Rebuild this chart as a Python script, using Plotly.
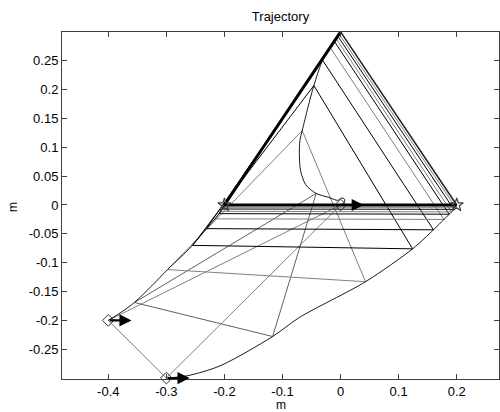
import plotly.graph_objects as go

# Snapshot positions of the three bodies (same time instants)
p1x = [-0.400, -0.355, -0.298, -0.255, -0.231, -0.216, -0.209, -0.206, -0.204, -0.202, -0.200]
p1y = [-0.200, -0.169, -0.112, -0.070, -0.041, -0.024, -0.015, -0.011, -0.007, -0.004, 0.000]
p2x = [-0.300, -0.117, 0.043, 0.124, 0.160, 0.178, 0.187, 0.191, 0.195, 0.198, 0.200]
p2y = [-0.300, -0.228, -0.133, -0.076, -0.043, -0.025, -0.016, -0.012, -0.0075, -0.004, 0.000]
p3x = [0.000, -0.042, -0.066, -0.046, -0.031, -0.018, -0.011, -0.008, -0.005, -0.003, 0.000]
p3y = [0.000, 0.020, 0.129, 0.207, 0.251, 0.273, 0.284, 0.289, 0.293, 0.297, 0.300]
snap_colors = ["#808080", "#606060", "#808080", "#000000", "#000000", "#808080",
               "#000000", "#808080", "#000000", "#808080", "#000000"]

# Trajectories
path1x = [-0.400, -0.378, -0.355, -0.325, -0.298, -0.275, -0.255, -0.231, -0.216, -0.206, -0.200]
path1y = [-0.200, -0.186, -0.169, -0.140, -0.112, -0.090, -0.070, -0.041, -0.024, -0.011, 0.000]
path2x = [-0.300, -0.264, -0.208, -0.117, -0.071, 0.043, 0.124, 0.160, 0.178, 0.191, 0.200]
path2y = [-0.300, -0.296, -0.279, -0.228, -0.195, -0.133, -0.076, -0.043, -0.025, -0.012, 0.000]
path3x = [0.000, 0.006, 0.007, 0.001, -0.005, -0.020, -0.042, -0.060, -0.069, -0.071, -0.070,
          -0.066, -0.056, -0.046, -0.031, -0.018, -0.008, 0.000]
path3y = [0.000, 0.004, 0.010, 0.012, 0.008, 0.013, 0.020, 0.035, 0.060, 0.090, 0.112,
          0.129, 0.170, 0.207, 0.251, 0.273, 0.289, 0.300]

# Initial velocities (arrows)
vx = [0.04, 0.04, 0.04]
vy = [0.0, 0.0, 0.0]

xticks = [-0.4, -0.3, -0.2, -0.1, 0, 0.1, 0.2]
xticklabels = ["-0.4", "-0.3", "-0.2", "-0.1", "0", "0.1", "0.2"]
yticks = [-0.25, -0.2, -0.15, -0.1, -0.05, 0, 0.05, 0.1, 0.15, 0.2, 0.25]
yticklabels = ["-0.25", "-0.2", "-0.15", "-0.1", "-0.05", "0", "0.05", "0.1", "0.15", "0.2", "0.25"]

fig = go.Figure()

n = len(p1x)
for i in range(n - 1):
    fig.add_trace(go.Scatter(
        x=[p1x[i], p2x[i], p3x[i], p1x[i]],
        y=[p1y[i], p2y[i], p3y[i], p1y[i]],
        mode="lines", line=dict(color=snap_colors[i], width=1),
        showlegend=False, hoverinfo="skip"))

for px, py in [(path1x, path1y), (path2x, path2y), (path3x, path3y)]:
    fig.add_trace(go.Scatter(x=px, y=py, mode="lines",
                             line=dict(color="#000000", width=0.9, shape="spline", smoothing=0.8),
                             showlegend=False, hoverinfo="skip"))

# Final formation
k = n - 1
fig.add_trace(go.Scatter(x=[p3x[k], p2x[k]], y=[p3y[k], p2y[k]], mode="lines",
                         line=dict(color="#202020", width=1.5), showlegend=False,
                         hoverinfo="skip"))
fig.add_trace(go.Scatter(x=[p2x[k], p1x[k], p3x[k]], y=[p2y[k], p1y[k], p3y[k]], mode="lines",
                         line=dict(color="#000000", width=3), showlegend=False,
                         hoverinfo="skip"))

# Initial markers
fig.add_trace(go.Scatter(x=[p1x[0], p2x[0], p3x[0]], y=[p1y[0], p2y[0], p3y[0]],
                         mode="markers", marker=dict(symbol="diamond-open", size=9,
                                                     color="#303030", line=dict(width=1)),
                         cliponaxis=False, showlegend=False, hoverinfo="skip"))
# Final markers
fig.add_trace(go.Scatter(x=[p1x[k], p2x[k], p3x[k]], y=[p1y[k], p2y[k], p3y[k]],
                         mode="markers", marker=dict(symbol="star-open", size=10,
                                                     color="#404040", line=dict(width=1.2)),
                         cliponaxis=False, showlegend=False, hoverinfo="skip"))

annotations = []
starts = [(p1x[0], p1y[0]), (p2x[0], p2y[0]), (p3x[0], p3y[0])]
for (x0, y0), dx, dy in zip(starts, vx, vy):
    annotations.append(dict(x=x0 + dx, y=y0 + dy, ax=x0, ay=y0, xref="x", yref="y",
                            axref="x", ayref="y", showarrow=True, arrowhead=2,
                            arrowsize=1.1, arrowwidth=2.2, arrowcolor="#000000", text=""))

L, R, T, B = 62, 1, 32, 33
W, H = 500, 412
pw, ph = W - L - R, H - T - B
annotations.append(dict(text="m", x=0.5, y=-(405 - (H - B)) / ph, xref="paper", yref="paper",
                        showarrow=False, xanchor="center", yanchor="middle",
                        font=dict(size=12, color="#000000")))
annotations.append(dict(text="m", x=(13 - L) / pw, y=((H - B) - 207) / ph, xref="paper",
                        yref="paper", showarrow=False, textangle=-90, xanchor="center",
                        yanchor="middle", font=dict(size=12, color="#000000")))

axis_common = dict(showgrid=False, zeroline=False, showline=True, linecolor="#404040",
                   linewidth=1, mirror="ticks", ticks="inside", ticklen=5,
                   tickcolor="#404040", tickfont=dict(size=13, color="#000000"))

fig.update_layout(
    width=W, height=H, margin=dict(l=L, r=R, t=T, b=B),
    paper_bgcolor="white", plot_bgcolor="white",
    font=dict(family="Liberation Sans, Arial, sans-serif", size=13, color="#000000"),
    title=dict(text="Trajectory", x=(L + pw / 2) / W, xanchor="center",
               y=1 - 16 / H, yanchor="middle", yref="container",
               font=dict(size=13, color="#000000")),
    xaxis=dict(range=[-0.4797, 0.2728], tickvals=xticks, ticktext=xticklabels, **axis_common),
    yaxis=dict(range=[-0.3016, 0.2998], tickvals=yticks, ticktext=yticklabels, **axis_common),
    annotations=annotations,
    showlegend=False,
    hovermode=False,
)

fig.write_html("out.html", config={"displayModeBar": False, "staticPlot": True},
               post_script="document.body.style.margin='0';document.body.style.overflow='hidden';")
